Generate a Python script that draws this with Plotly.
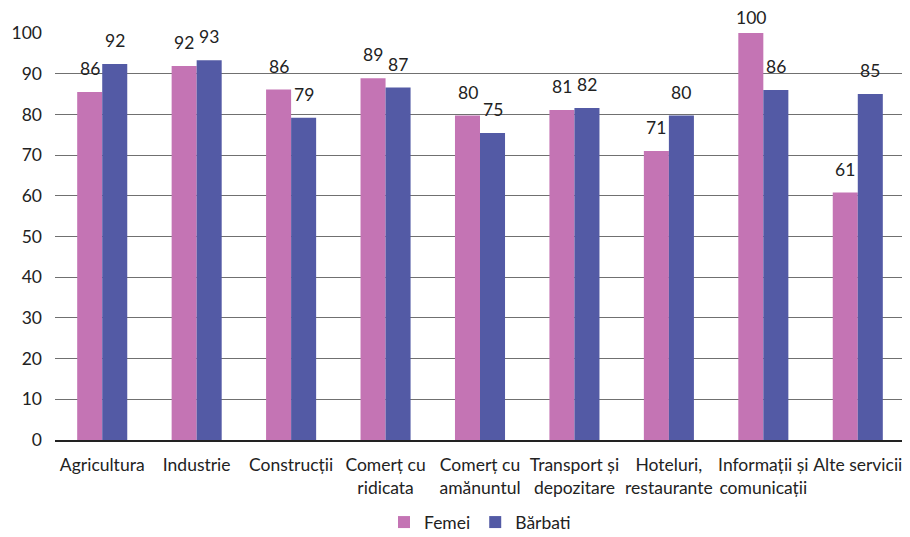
import plotly.graph_objects as go

categories = ["Agricultura", "Industrie", "Construcții", "Comerț cu<br>ridicata",
              "Comerț cu<br>amănuntul", "Transport și<br>depozitare", "Hoteluri,<br>restaurante",
              "Informații și<br>comunicații", "Alte servicii"]
femei = [85.5, 91.9, 86.1, 88.9, 79.7, 81.1, 71.0, 100.0, 60.8]
barbati = [92.4, 93.3, 79.2, 86.6, 75.4, 81.6, 79.7, 86.0, 85.0]
y_ticks = [0, 10, 20, 30, 40, 50, 60, 70, 80, 90, 100]

pink = "#C474B4"
blue = "#535AA5"
font = "Lato"
fs = 17.5

fig = go.Figure()
fig.add_trace(go.Bar(name="Femei", x=categories, y=femei, marker_color=pink,
                     marker_line_width=0, textposition="none"))
fig.add_trace(go.Bar(name="Bărbati", x=categories, y=barbati, marker_color=blue,
                     marker_line_width=0, textposition="none"))

annotations = []
for series, shift in ((femei, -12.5), (barbati, 12.5)):
    for c, v in zip(categories, series):
        annotations.append(dict(x=c, y=v, text=f"{round(v)}", showarrow=False,
                                xshift=shift, yshift=11 if v < 99 else 3, yanchor="bottom",
                                font=dict(family=font, size=fs, color="#222")))

fig.update_layout(
    width=902, height=529,
    margin=dict(l=47, r=5, t=25, b=97, autoexpand=False),
    paper_bgcolor="white", plot_bgcolor="white",
    barmode="group", bargap=0.47, bargroupgap=0,
    font=dict(family=font, size=fs, color="#222"),
    annotations=annotations,
    legend=dict(orientation="h", x=0.5, xanchor="center", yref="container",
                y=0.028, yanchor="middle",
                font=dict(family=font, size=fs), itemwidth=30, traceorder="normal"),
    xaxis=dict(showline=True, linecolor="#222", linewidth=1.5, ticks="",
               ticklabelstandoff=8,
               tickfont=dict(size=fs), showgrid=False, automargin=False),
    yaxis=dict(range=[0, 100], tickvals=y_ticks, showgrid=True, gridcolor="#707070",
               gridwidth=1, zeroline=False, showline=False, ticks="",
               ticklabelstandoff=12, tickfont=dict(size=fs), automargin=False),
)

fig.write_html("out.html")
